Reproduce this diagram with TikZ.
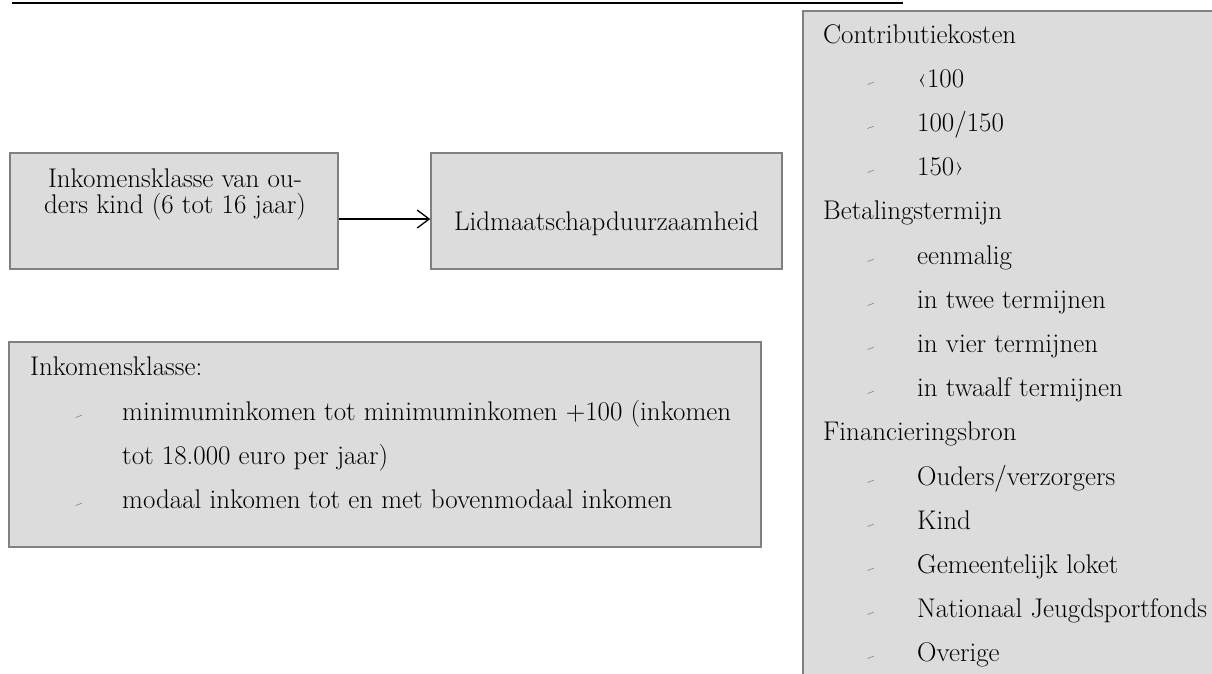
\documentclass[tikz,border=0pt]{standalone}
\usetikzlibrary{arrows.meta}
\definecolor{boxfill}{RGB}{220,220,220}
\definecolor{boxline}{RGB}{128,128,128}
\begin{document}
\begin{tikzpicture}[x=1pt,y=-1pt,
  box/.style={draw=boxline, fill=boxfill, line width=1.5pt, inner sep=0pt, rectangle},
  txt/.style={inner sep=0pt, font=\fontsize{27}{31}\selectfont},
  ltxt/.style={txt, anchor=base west},
  ctxt/.style={txt, anchor=base},
  bul/.style={inner sep=0pt, anchor=base, rotate=20, font=\fontsize{14}{14}\selectfont},
  conn/.style={line width=1.3pt, -{Straight Barb[length=12pt,width=18pt,line width=1.3pt]}}
]
\useasboundingbox (0,0) rectangle (1212,673);
\clip (0,0) rectangle (1212,673);

% top rule
\draw[line width=2.8pt] (12,3) -- (903,3);

% box 1 and box 2
\node[box, minimum width=328pt, minimum height=116pt] (b1) at (174,211) {};
\node[ctxt] (b1a) at (175,187) {Inkomensklasse van ou-};
\node[ctxt] (b1b) at (175,213) {ders kind (6 tot 16 jaar)};

\node[box, minimum width=351pt, minimum height=116pt] (b2) at (606.5,211) {};
\node[ctxt] (b2a) at (606.5,230) {Lidmaatschapduurzaamheid};

\draw[conn] ([yshift=-8pt]b1.east) -- ([yshift=-8pt]b2.west);

% box 3
\node[box, minimum width=752pt, minimum height=205pt] (b3) at (385,444.5) {};
\node[ltxt] (b3h) at (30,375) {Inkomensklasse:};
\node[bul] (b3d1) at (80,420) {–};
\node[ltxt] (b3i1) at (122,420) {minimuminkomen tot minimuminkomen +100 (inkomen};
\node[ltxt] (b3i2) at (122,464) {tot 18.000 euro per jaar)};
\node[bul] (b3d2) at (80,508) {–};
\node[ltxt] (b3i3) at (122,508) {modaal inkomen tot en met bovenmodaal inkomen};

% right box
\draw[draw=boxline, fill=boxfill, line width=1.5pt] (803,11) rectangle (1240,700);
\node[ltxt] (r0) at (823,43) {Contributiekosten};
\node[bul] (d1) at (872,87.2) {–};   \node[ltxt] (r1) at (917,87.2) {‹100};
\node[bul] (d2) at (872,131.4) {–};  \node[ltxt] (r2) at (917,131.4) {100/150};
\node[bul] (d3) at (872,175.6) {–};  \node[ltxt] (r3) at (917,175.6) {150›};
\node[ltxt] (r4) at (823,219.8) {Betalingstermijn};
\node[bul] (d5) at (872,264) {–};    \node[ltxt] (r5) at (917,264) {eenmalig};
\node[bul] (d6) at (872,308.2) {–};  \node[ltxt] (r6) at (917,308.2) {in twee termijnen};
\node[bul] (d7) at (872,352.4) {–};  \node[ltxt] (r7) at (917,352.4) {in vier termijnen};
\node[bul] (d8) at (872,396.6) {–};  \node[ltxt] (r8) at (917,396.6) {in twaalf termijnen};
\node[ltxt] (r9) at (823,440.8) {Financieringsbron};
\node[bul] (d10) at (872,485) {–};   \node[ltxt] (r10) at (917,485) {Ouders/verzorgers};
\node[bul] (d11) at (872,529.2) {–}; \node[ltxt] (r11) at (917,529.2) {Kind};
\node[bul] (d12) at (872,573.4) {–}; \node[ltxt] (r12) at (917,573.4) {Gemeentelijk loket};
\node[bul] (d13) at (872,617.6) {–}; \node[ltxt] (r13) at (917,617.6) {Nationaal Jeugdsportfonds};
\node[bul] (d14) at (872,661.8) {–}; \node[ltxt] (r14) at (917,661.8) {Overige};
\end{tikzpicture}
\end{document}
